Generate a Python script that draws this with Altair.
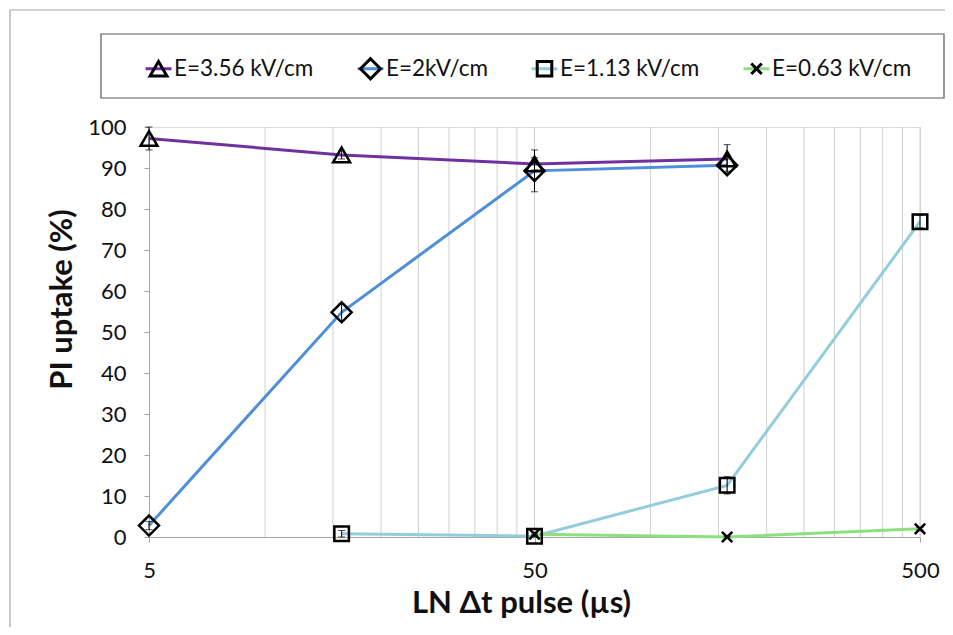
import altair as alt
import pandas as pd

# ---- data ----
pulse_us = [5, 15.8, 50, 158, 500]
series_names = ["E=3.56 kV/cm", "E=2kV/cm", "E=1.13 kV/cm", "E=0.63 kV/cm"]
uptake_356 = [97.2, 93.2, 91.0, 92.2, None]
uptake_200 = [2.8, 54.8, 89.3, 90.7, None]
uptake_113 = [None, 0.8, 0.2, 12.6, 76.9]
uptake_063 = [None, None, 0.7, 0.0, 2.0]
err_356 = [2.8, 1.0, 1.5, 3.5, None]
err_200 = [1.0, 2.0, 5.1, 1.5, None]
err_113 = [None, 0.8, 0.3, 2.1, 1.5]
err_063 = [None, None, 0.3, 0.2, 0.3]
series_colors = ["#7030A0", "#4F8ED8", "#92CDDC", "#8EE07E"]
symbol_keys = ["s1", "s2", "s3", "s4"]
# shapes in a [-1,1] box; the move-only "M-1,-1M1,1" gives every symbol the same box
BOX = "M-1,-1M1,1"
symbol_paths = [
    BOX + "M0,-0.56L0.65,0.56L-0.65,0.56Z",
    BOX + "M0,-0.77L0.77,0L0,0.77L-0.77,0Z",
    BOX + "M-0.56,-0.56L0.56,-0.56L0.56,0.56L-0.56,0.56Z",
    BOX + "M-0.4,-0.4L0.4,0.4M-0.4,0.4L0.4,-0.4",
]
legend_line_path = BOX + "M-1,0L1,0"
grid_values = [10, 15, 20, 25, 30, 35, 40, 45, 50,
               100, 150, 200, 250, 300, 350, 400, 450, 500]
x_tick_values = [5, 50, 500]
y_tick_values = [0, 10, 20, 30, 40, 50, 60, 70, 80, 90, 100]
x_title = "LN \u0394t pulse (\u00b5s)"
y_title = "PI uptake (%)"

# ---- tables ----
rows = []
for name, key, ys, es in zip(series_names, symbol_keys,
                             [uptake_356, uptake_200, uptake_113, uptake_063],
                             [err_356, err_200, err_113, err_063]):
    for xv, yv, ev in zip(pulse_us, ys, es):
        if yv is None:
            continue
        e = ev if ev is not None else 0
        rows.append({"x": xv, "y": yv, "series": name, "sym": key,
                     "lo": max(yv - e, 0), "hi": min(yv + e, 100)})
df = pd.DataFrame(rows)
grid_df = pd.DataFrame({"g": grid_values})
one_df = pd.DataFrame({"k": [0]})

FONT = "Lato"
x_scale = alt.Scale(type="log", domain=[5, 500], nice=False)
y_scale = alt.Scale(domain=[0, 100], nice=False)
x_axis = alt.Axis(values=x_tick_values, format="~g", grid=False, tickSize=5,
                  tickColor="#A6A6A6", domainColor="#A6A6A6", labelPadding=18,
                  labelFlush=False, labelOverlap=False,
                  labelFontSize=22, labelFont=FONT, labelColor="#111",
                  titleFont=FONT, titleFontSize=31, titleFontWeight="bold",
                  titleColor="#111", titleX=372, titleY=66, titleBaseline="middle")
y_axis = alt.Axis(values=y_tick_values, grid=False, tickSize=5,
                  tickColor="#A6A6A6", domainColor="#A6A6A6", labelPadding=18,
                  labelFontSize=22, labelFont=FONT, labelColor="#111",
                  titleFont=FONT, titleFontSize=31, titleFontWeight="bold",
                  titleColor="#111", titleX=-87, titleY=172, titleBaseline="middle")


def X(field):
    return alt.X(field, type="quantitative", scale=x_scale, axis=x_axis, title=x_title)


def Y(field):
    return alt.Y(field, type="quantitative", scale=y_scale, axis=y_axis, title=y_title)


label_expr = " : ".join(
    f"datum.label == '{k}' ? '{n}'" for k, n in zip(symbol_keys, series_names)
) + " : datum.label"

legend_common = dict(orient="none", legendX=-5, legendY=-73, direction="horizontal",
                     columns=4, title=None, padding=0, symbolSize=676,
                     symbolStrokeWidth=3,
                     labelFont=FONT, labelFontSize=22.5, labelOffset=1,
                     columnPadding=37, labelLimit=400)

frame = alt.Chart(one_df).mark_rect(fillOpacity=0, stroke="#A6A6A6", strokeWidth=1.2).encode(
    x=alt.value(-139), x2=alt.value(830), y=alt.value(-117), y2=alt.value(540))
legend_box = alt.Chart(one_df).mark_rect(fillOpacity=0, stroke="#595959", strokeWidth=1.2).encode(
    x=alt.value(-48), x2=alt.value(795), y=alt.value(-93), y2=alt.value(-29))

grid = alt.Chart(grid_df).mark_rule(color="#D0D0D0", strokeWidth=1).encode(
    x=X("g"), y=alt.YDatum(0), y2=alt.Y2Datum(100))

lines = alt.Chart(df).mark_line(strokeWidth=3).encode(
    x=X("x"), y=Y("y"),
    color=alt.Color("series:N", scale=alt.Scale(domain=series_names, range=series_colors),
                    legend=alt.Legend(symbolType=legend_line_path,
                                      symbolFillColor="transparent",
                                      labelColor="#111", **legend_common)))

errs = alt.Chart(df).mark_errorbar(ticks=True, size=7, thickness=1, color="black").encode(
    x=X("x"), y=Y("lo"), y2="hi")

points = alt.Chart(df).mark_point(filled=False, size=676, strokeWidth=2.5, color="black",
                                  opacity=1).encode(
    x=X("x"), y=Y("y"),
    shape=alt.Shape("sym:N", scale=alt.Scale(domain=symbol_keys, range=symbol_paths),
                    legend=alt.Legend(labelExpr=label_expr, labelOpacity=0,
                                      symbolStrokeColor="black", symbolFillColor="transparent",
                                      **legend_common)))

chart = alt.layer(frame, legend_box, grid, lines, errs, points).properties(
    width=771, height=410,
    autosize=alt.AutoSizeParams(type="none"),
    padding={"left": 141, "top": 119, "right": 25, "bottom": 90},
).configure_view(strokeWidth=0).configure(background="white")

chart.save("out.html", embed_options={"renderer": "svg", "actions": False})
